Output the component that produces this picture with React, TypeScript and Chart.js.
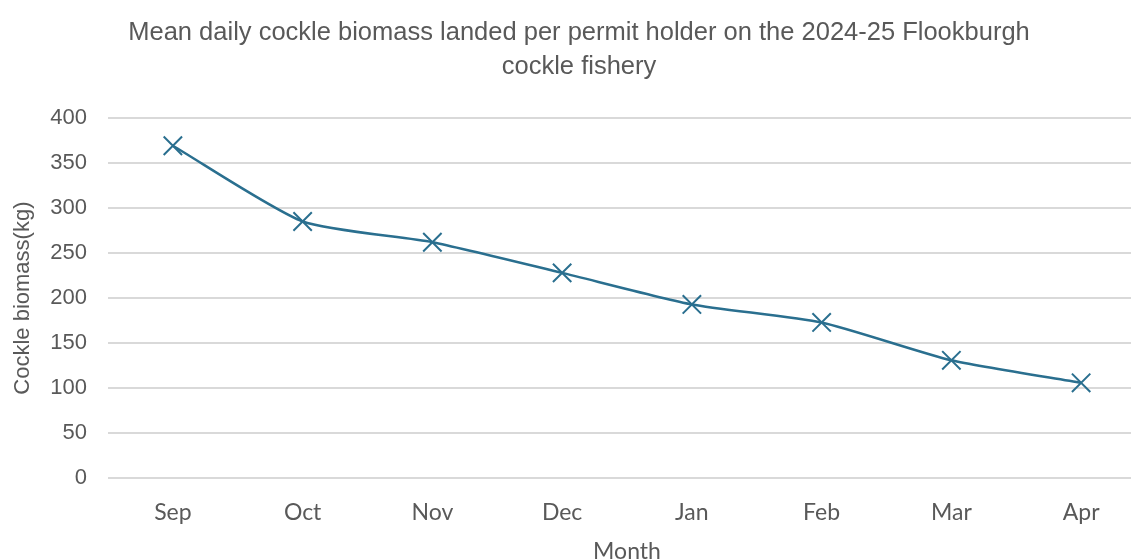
import React, { useEffect, useRef } from "react";
import { Chart, registerables } from "chart.js";

Chart.register(...registerables);

const months = ["Sep", "Oct", "Nov", "Dec", "Jan", "Feb", "Mar", "Apr"];
const biomass = [369, 285, 262, 228, 193, 173, 131, 106];
const titleLines = [
  "Mean daily cockle biomass landed per permit holder on the 2024-25 Flookburgh",
  "cockle fishery",
];
const yTitle = "Cockle biomass(kg)";
const xTitle = "Month";

export default function App() {
  const ref = useRef<HTMLCanvasElement | null>(null);
  useEffect(() => {
    if (!ref.current) return;
    const grey = "#595959";
    const chart = new Chart(ref.current, {
      type: "line",
      data: {
        labels: months,
        datasets: [
          {
            data: biomass,
            borderColor: "#2a6f8f",
            backgroundColor: "#2a6f8f",
            borderWidth: 2.5,
            tension: 0.2,
            pointStyle: "crossRot",
            pointRadius: 13,
            pointBorderWidth: 2,
            pointBorderColor: "#2a6f8f",
          },
        ],
      },
      options: {
        responsive: false,
        animation: false,
        layout: { padding: { left: 0, right: 3, top: 16, bottom: 0 } },
        plugins: {
          legend: { display: false },
          tooltip: { enabled: false },
          title: {
            display: true,
            text: titleLines,
            color: grey,
            font: { family: "'Liberation Sans', Arial", size: 25.5, weight: "normal", lineHeight: 1.33 },
            padding: { top: 0, bottom: 34 },
          },
        },
        scales: {
          x: {
            offset: true,
            grid: { display: false },
            border: { display: false },
            ticks: {
              color: grey,
              font: { family: "Lato", size: 23 },
              padding: 12,
            },
            title: {
              display: true,
              text: xTitle,
              color: grey,
              font: { family: "Lato", size: 23, lineHeight: 1.0 },
              padding: { top: 2, bottom: 0 },
            },
          },
          y: {
            min: 0,
            max: 400,
            afterFit: (s: any) => {
              s.width = 108;
            },
            ticks: {
              stepSize: 50,
              color: grey,
              font: { family: "'Liberation Sans', Arial", size: 22 },
              padding: 21,
            },
            grid: { color: "#d9d9d9", lineWidth: 2, drawTicks: false },
            border: { display: false },
            title: {
              display: true,
              text: yTitle,
              color: grey,
              font: { family: "'Liberation Sans', Arial", size: 22 },
              padding: { top: 10, bottom: 0 },
            },
          },
        },
      },
    });
    return () => chart.destroy();
  }, []);
  return (
    <div style={{ position: "absolute", left: 0, top: 0, width: 1131, height: 559, overflow: "hidden", background: "#fff" }}>
      <canvas ref={ref} width={1161} height={563} style={{ display: "block" }} />
    </div>
  );
}
